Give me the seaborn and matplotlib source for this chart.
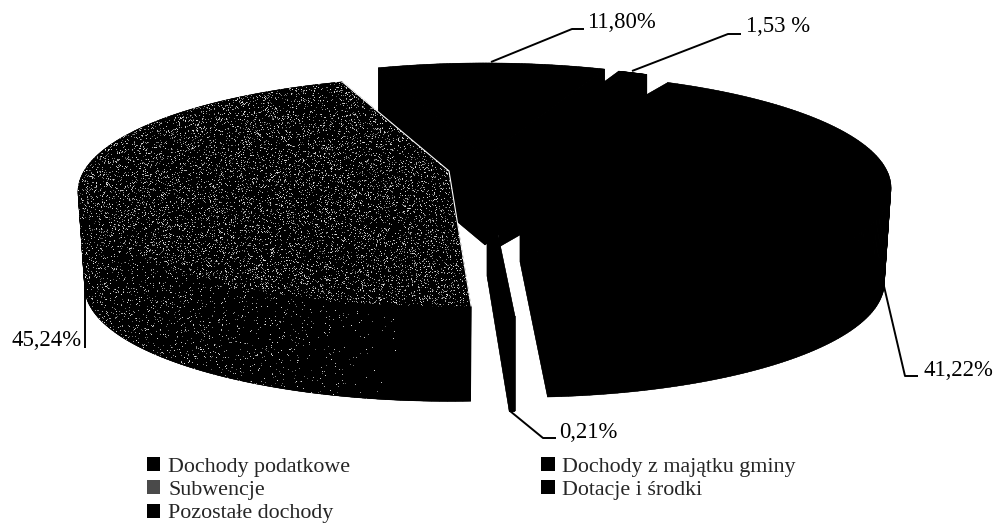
import numpy as np
import matplotlib
matplotlib.use("Agg")
import matplotlib.pyplot as plt
from matplotlib.patches import Patch, Polygon
import seaborn as sns

# Revenue structure of the municipality, in per cent
categories = ["Dochody podatkowe", "Dochody z majątku gminy", "Subwencje",
              "Dotacje i środki", "Pozostałe dochody"]
shares = [41.22, 0.21, 45.24, 11.80, 1.53]
share_labels = ["41,22%", "0,21%", "45,24%", "11,80%", "1,53 %"]
legend_names = ["Dochody podatkowe", "Subwencje", "Pozostałe dochody",
                "Dochody z majątku gminy", "Dotacje i środki"]

# Pie layout, in pixels of the canvas
START_ANGLE = 62.0
TILT = 0.18
RADIUS_X = 365.0
RADIUS_Y = 111.0
slice_hubs = [(520, 167), (487, 181), (449, 171), (485, 157), (499, 159)]
slice_depths = [95, 95, 95, 88, 88]
base_scales = [0.982, 1.0, 0.982, 1.0, 1.0]
draw_order = [3, 4, 0, 1, 2]

label_anchors = {
    0: [(883, 282), (905, 376), (918, 376)],
    1: [(510, 411), (543, 438), (556, 438)],
    2: [(85, 280), (85, 348)],
    3: [(491, 62), (572, 29), (584, 29)],
    4: [(632, 71), (728, 34), (741, 34)],
}
label_text_pos = {0: (923, 370), 1: (559, 432), 2: (12, 340), 3: (587, 23), 4: (746, 27)}

sns.set_theme(style="white")
plt.rcParams["font.family"] = ["Liberation Serif", "DejaVu Serif"]

fig = plt.figure(figsize=(9.95, 5.28), dpi=100)
ax = fig.add_axes([0, 0, 1, 1])
ax.set_xlim(0, 995)
ax.set_ylim(528, 0)
ax.axis("off")


def slice_outline(hub, a0, a1):
    """Outline of one slice on the tilted disc, hub first, then the rim."""
    theta = np.radians(np.linspace(a0, a1, 160))
    w = 1 + TILT * np.sin(theta)
    x = hub[0] + RADIUS_X * np.cos(theta) / w
    y = hub[1] - RADIUS_Y * np.sin(theta) / w
    return np.r_[hub[0], x], np.r_[hub[1], y]


def speckle(level):
    """Print-screen grain: grey specks on black, denser where level is higher."""
    yy, xx = np.mgrid[0:528, 0:995]
    grain = np.sin(xx * 12.9898 + yy * 78.233) * 43758.5453
    grain -= np.floor(grain)
    tone = np.sin(xx * 39.346 + yy * 11.135) * 24634.6345
    tone -= np.floor(tone)
    return np.where(grain < level, 0.3 + 0.6 * tone, 0.0)


# Wall grain fades out toward the front of the slice
yy_wall, xx_wall = np.mgrid[0:528, 0:995]
wall_level = np.clip(0.09 * (1 - (xx_wall - 85) / 315), 0, 0.09)
wall_grain = speckle(wall_level)
top_grain = speckle(0.13)

edges = START_ANGLE - 3.6 * np.cumsum(np.r_[0, shares])

for i in draw_order:
    hub = slice_hubs[i]
    x, y = slice_outline(hub, edges[i], edges[i + 1])
    depth = slice_depths[i]
    textured = categories[i] == "Subwencje"
    # The front slices rest on a base slightly narrower than their top
    xb = hub[0] + (x - hub[0]) * base_scales[i]
    yb = y + depth
    # Extruded wall: every outline segment swept down to the base
    xc, yc = np.r_[x, x[0]], np.r_[y, y[0]]
    xbc, ybc = np.r_[xb, xb[0]], np.r_[yb, yb[0]]
    ax.fill(xb, yb, color="black", lw=0, zorder=i + 1)
    for j in range(len(x)):
        ax.fill([xc[j], xc[j + 1], xbc[j + 1], xbc[j]],
                [yc[j], yc[j + 1], ybc[j + 1], ybc[j]],
                color="black", lw=0.3, zorder=i + 1)
    if textured:
        # Grain on the front part of the wall, from the cut to the far left of the rim
        last = np.argmin(x)
        wall = Polygon(np.c_[np.r_[x[1:last + 1], xb[last:0:-1]],
                             np.r_[y[1:last + 1], yb[last:0:-1]]],
                       transform=ax.transData)
        im = ax.imshow(wall_grain, cmap="gray", vmin=0, vmax=1, extent=(0, 995, 528, 0),
                       interpolation="nearest", aspect="auto", zorder=i + 1.5)
        im.set_clip_path(wall)
        # Top face with its grain and a fine white seam on the cut edges
        top = Polygon(np.c_[x, y], transform=ax.transData)
        ax.fill(x, y, facecolor="black", edgecolor="none", zorder=i + 2)
        im = ax.imshow(top_grain, cmap="gray", vmin=0, vmax=1, extent=(0, 995, 528, 0),
                       interpolation="nearest", aspect="auto", zorder=i + 2.1)
        im.set_clip_path(top)
        ax.plot([x[-1], x[0], x[1]], [y[-1], y[0], y[1]], color="white", lw=0.8, zorder=i + 2.2)
    else:
        ax.fill(x, y, color="black", lw=0, zorder=i + 2)

ax.set_xlim(0, 995)
ax.set_ylim(528, 0)

# Leader lines and value labels
for i, pts in label_anchors.items():
    px, py = zip(*pts)
    ax.plot(px, py, color="black", lw=1.4, zorder=20, solid_capstyle="butt")
    ax.text(*label_text_pos[i], share_labels[i], fontsize=16.4, color="black",
            ha="left", va="center", zorder=21)

handles = [Patch(facecolor="#4a4a4a" if n == "Subwencje" else "black", edgecolor="none",
                 label=n) for n in legend_names]
legend = ax.legend(handles=handles, ncol=2, frameon=False, fontsize=15.8, loc="upper left",
                   bbox_to_anchor=(0.148, 0.134), handlelength=0.6, handleheight=0.6,
                   handletextpad=0.36, columnspacing=8.7, labelspacing=0.16,
                   borderpad=0, borderaxespad=0)
legend.set_zorder(30)

fig.savefig("out.png", dpi=100, facecolor="white")
